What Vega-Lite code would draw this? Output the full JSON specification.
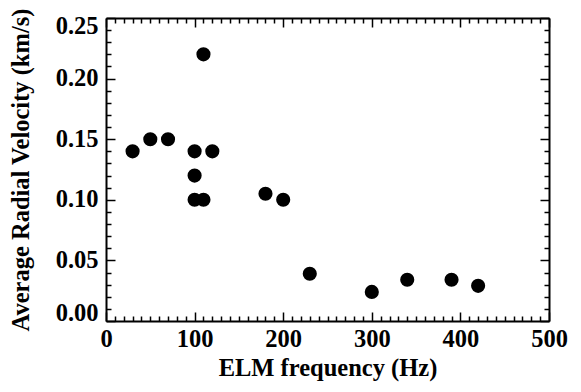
{
  "$schema": "https://vega.github.io/schema/vega-lite/v6.json",
  "width": 443,
  "height": 303,
  "autosize": {"type": "none"},
  "padding": {"left": 106, "top": 18, "right": 32, "bottom": 71},
  "background": "white",
  "config": {
    "view": {"stroke": null},
    "axis": {
      "labelFont": "Liberation Serif",
      "titleFont": "Liberation Serif",
      "labelFontWeight": "bold",
      "titleFontWeight": "bold",
      "labelColor": "black",
      "titleColor": "black",
      "domainColor": "black",
      "tickColor": "black",
      "domainWidth": 2,
      "tickWidth": 1.5,
      "grid": false,
      "labelFontSize": 24.5,
      "titleFontSize": 24.5
    }
  },
  "data": {
    "values": [
      {"f": 30, "v": 0.14},
      {"f": 50, "v": 0.15},
      {"f": 70, "v": 0.15},
      {"f": 100, "v": 0.14},
      {"f": 100, "v": 0.12},
      {"f": 100, "v": 0.10},
      {"f": 110, "v": 0.10},
      {"f": 110, "v": 0.22},
      {"f": 120, "v": 0.14},
      {"f": 180, "v": 0.105},
      {"f": 200, "v": 0.10},
      {"f": 230, "v": 0.039},
      {"f": 300, "v": 0.024},
      {"f": 340, "v": 0.034},
      {"f": 390, "v": 0.034},
      {"f": 420, "v": 0.029}
    ]
  },
  "layer": [
    {
      "mark": {"type": "point", "filled": true, "color": "black", "opacity": 0},
      "encoding": {
        "x": {
          "field": "f", "type": "quantitative",
          "scale": {"domain": [0, 500], "nice": false, "zero": false},
          "axis": {
            "orient": "top", "title": null, "labels": false,
            "values": [0,10,20,30,40,50,60,70,80,90,100,110,120,130,140,150,160,170,180,190,200,210,220,230,240,250,260,270,280,290,300,310,320,330,340,350,360,370,380,390,400,410,420,430,440,450,460,470,480,490,500],
            "tickSize": {"condition": {"test": "datum.value % 100 === 0", "value": -9}, "value": -5}
          }
        },
        "y": {
          "field": "v", "type": "quantitative",
          "scale": {"domain": [0, 0.25], "nice": false, "zero": false},
          "axis": {
            "orient": "right", "title": null, "labels": false,
            "values": [0,0.01,0.02,0.03,0.04,0.05,0.06,0.07,0.08,0.09,0.1,0.11,0.12,0.13,0.14,0.15,0.16,0.17,0.18,0.19,0.2,0.21,0.22,0.23,0.24,0.25],
            "tickSize": {"condition": {"test": "round(datum.value*100) % 5 === 0", "value": -9}, "value": -5}
          }
        }
      }
    },
    {
      "mark": {"type": "point", "filled": true, "color": "black", "opacity": 1, "size": 200},
      "encoding": {
        "x": {
          "field": "f", "type": "quantitative",
          "scale": {"domain": [0, 500], "nice": false, "zero": false},
          "axis": {
            "orient": "bottom", "title": "ELM frequency (Hz)",
            "values": [0,10,20,30,40,50,60,70,80,90,100,110,120,130,140,150,160,170,180,190,200,210,220,230,240,250,260,270,280,290,300,310,320,330,340,350,360,370,380,390,400,410,420,430,440,450,460,470,480,490,500],
            "labelExpr": "datum.value % 100 === 0 ? datum.label : ''",
            "tickSize": {"condition": {"test": "datum.value % 100 === 0", "value": -9}, "value": -5},
            "labelPadding": 15,
            "titlePadding": 2,
            "labelFlush": false,
            "labelOverlap": false
          }
        },
        "y": {
          "field": "v", "type": "quantitative",
          "scale": {"domain": [0, 0.25], "nice": false, "zero": false},
          "axis": {
            "orient": "left", "title": "Average Radial Velocity (km/s)",
            "format": ".2f",
            "values": [0,0.01,0.02,0.03,0.04,0.05,0.06,0.07,0.08,0.09,0.1,0.11,0.12,0.13,0.14,0.15,0.16,0.17,0.18,0.19,0.2,0.21,0.22,0.23,0.24,0.25],
            "labelExpr": "round(datum.value*100) % 5 === 0 ? datum.label : ''",
            "tickSize": {"condition": {"test": "round(datum.value*100) % 5 === 0", "value": -9}, "value": -5},
            "labelPadding": 17,
            "titlePadding": 22,
            "labelFlush": true,
            "labelFlushOffset": 4,
            "labelOverlap": false
          }
        }
      }
    }
  ],
  "resolve": {"axis": {"x": "independent", "y": "independent"}}
}
